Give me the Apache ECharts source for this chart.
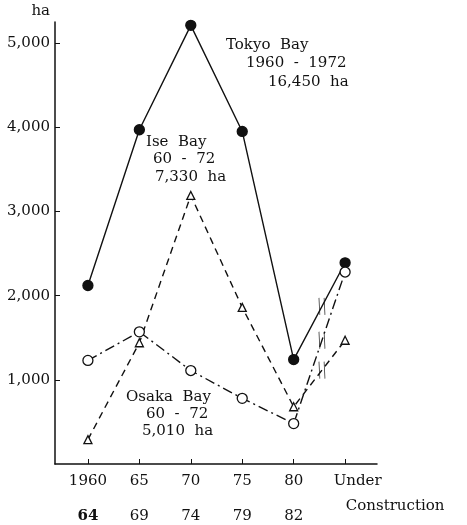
<!DOCTYPE html>
<html>
<head>
<meta charset="utf-8">
<script src="https://cdn.jsdelivr.net/npm/echarts@6/dist/echarts.min.js"></script>
<style>
  html, body { margin: 0; padding: 0; background: #fff; }
  #main { width: 467px; height: 525px; }
</style>
</head>
<body>
<div id="main"></div>
<script>
// categories (two rows of tick labels)
var periodStart = ['1960', '65', '70', '75', '80', 'Under'];
var periodEnd = ['64', '69', '74', '79', '82', 'Construction'];
// reclaimed area, ha
var tokyoBay = [2120, 3970, 5210, 3950, 1240, 2390];
var iseBay = [290, 1440, 3190, 1860, 680, 1470];
var osakaBay = [1230, 1570, 1110, 780, 480, 2280];
var yTicks = [1000, 2000, 3000, 4000, 5000];
var xTicks = [0, 1, 2, 3, 4, 5];
var xYearTicks = [0, 1, 2, 3, 4];
var xLastTick = [5];

var FONT = 'DejaVu Serif';

function toPoints(arr){
    var out = [];
    for (var i = 0; i < arr.length; i++) {
        out.push([i, arr[i]]);
    }
    return out;
}

// the little "||" break mark on the last segment
function breakPoint(arr){
    var t = 0.55;
    var a = arr[4], b = arr[5];
    return [[4 + t, a + t * (b - a)]];
}

function lineSeries(name, arr, symbol, size, filled, dash){
    return {
        name: name,
        type: 'line',
        data: toPoints(arr),
        symbol: symbol,
        symbolSize: size,
        showAllSymbol: true,
        lineStyle: { color: '#111', width: 1.4, type: dash },
        itemStyle: { color: filled ? '#111' : '#fff', borderColor: '#111', borderWidth: 1.3 },
        z: 3,
        animation: false
    };
}

function breakSeries(arr){
    return {
        type: 'scatter',
        data: breakPoint(arr),
        symbol: 'path://M0,0L1,20M6,0L7,20',
        symbolSize: [6, 17],
        itemStyle: { color: 'none', borderColor: '#111', borderWidth: 1.4 },
        z: 4,
        animation: false
    };
}

function txt(x, y, s){
    return {
        type: 'text',
        x: x, y: y,
        style: { text: s, font: '15px "' + FONT + '"', fill: '#111', verticalAlign: 'middle' }
    };
}

var xMin = -0.64, xMax = 5.62;

var mychart = echarts.init(document.getElementById('main'));
var option = {
    backgroundColor: '#fff',
    animation: false,
    grid: { left: 55, right: 90, top: 22, bottom: 61 },
    xAxis: [{
        type: 'value',
        position: 'bottom',
        min: xMin,
        max: xMax,
        splitLine: { show: false },
        axisLine: { onZero: false, lineStyle: { color: '#111', width: 1.5 } },
        axisTick: { show: true, inside: true, length: 5, customValues: xTicks, lineStyle: { color: '#111' } },
        axisLabel: {
            customValues: xYearTicks,
            margin: 2,
            color: '#111',
            fontFamily: FONT,
            fontSize: 15,
            formatter: function (v) {
                var i = Math.round(v);
                return '{a|' + periodStart[i] + '}\n{' + (i === 0 ? 'bb' : 'b') + '|' + periodEnd[i] + '}';
            },
            rich: {
                a: { fontFamily: FONT, fontSize: 15, lineHeight: 30 },
                b: { fontFamily: FONT, fontSize: 15, lineHeight: 40 },
                bb: { fontFamily: FONT, fontSize: 15, fontWeight: 'bold', lineHeight: 40 }
            }
        }
    }, {
        // only carries the "Under Construction" label
        type: 'value',
        position: 'bottom',
        offset: 0,
        min: xMin,
        max: xMax,
        splitLine: { show: false },
        axisLine: { show: false, onZero: false },
        axisTick: { show: false },
        axisLabel: {
            customValues: xLastTick,
            margin: 2,
            color: '#111',
            fontFamily: FONT,
            fontSize: 15,
            formatter: function (v) {
                var i = Math.round(v);
                return '{u|' + periodStart[i] + '}\n{c|' + periodEnd[i] + '}';
            },
            rich: {
                u: { fontFamily: FONT, fontSize: 15, lineHeight: 30, padding: [0, 0, 0, 25] },
                c: { fontFamily: FONT, fontSize: 15, lineHeight: 20, padding: [0, 0, 0, 100] }
            }
        }
    }],
    yAxis: {
        type: 'value',
        min: 0,
        max: 5250,
        name: 'ha',
        nameGap: 3,
        nameTextStyle: { color: '#111', fontFamily: FONT, fontSize: 15, align: 'right', padding: [0, 5, 0, 0] },
        splitLine: { show: false },
        axisLine: { show: true, onZero: false, lineStyle: { color: '#111', width: 1.5 } },
        axisTick: { show: true, inside: true, length: 5, customValues: yTicks, lineStyle: { color: '#111' } },
        axisLabel: {
            customValues: yTicks,
            margin: 5,
            color: '#111',
            fontFamily: FONT,
            fontSize: 15,
            formatter: function (v) {
                return v.toLocaleString('en-US');
            }
        }
    },
    series: [
        lineSeries('Tokyo Bay', tokyoBay, 'circle', 10, true, 'solid'),
        lineSeries('Ise Bay', iseBay, 'triangle', 8, false, [7, 5]),
        lineSeries('Osaka Bay', osakaBay, 'circle', 10, false, [10, 4, 2, 4]),
        breakSeries(tokyoBay),
        breakSeries(iseBay),
        breakSeries(osakaBay)
    ],
    graphic: [
        txt(226, 45, 'Tokyo  Bay'),
        txt(246, 63, '1960  -  1972'),
        txt(268, 82, '16,450  ha'),
        txt(146, 142, 'Ise  Bay'),
        txt(153, 159, '60  -  72'),
        txt(155, 177, '7,330  ha'),
        txt(126, 397, 'Osaka  Bay'),
        txt(146, 414, '60  -  72'),
        txt(142, 431, '5,010  ha')
    ]
};
mychart.setOption(option);
</script>
</body>
</html>
